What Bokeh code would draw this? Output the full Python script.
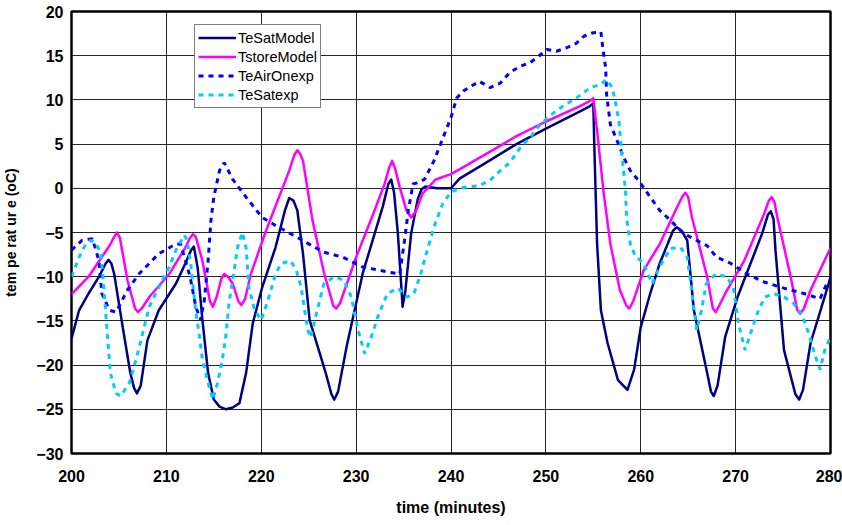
from bokeh.plotting import figure
from bokeh.models import Range1d, SingleIntervalTicker, Legend, LegendItem
from bokeh.embed import file_html
from bokeh.resources import INLINE

# ---- data ----
sat_model_t = [200, 200.8, 201.8, 202.9, 203.6, 203.9, 204.2, 204.5, 205.4, 206.2, 206.6, 206.9, 207.3, 208.0,
               209.2, 211.0, 212.0, 212.6, 212.9, 213.3, 213.8, 214.4, 215.0, 215.6, 216.3, 217.0, 217.7,
               218.4, 219.1, 220.1, 221.5, 222.5, 222.95, 223.4, 223.8, 224.4, 225.1, 226.8, 227.4, 227.7,
               228.1, 229.0, 230.7, 232.8, 233.4, 233.7, 234.0, 234.4, 234.9, 235.2, 235.8, 236.5, 236.9,
               237.3, 238.5, 240.0, 240.9, 243.4, 246.9, 249.9, 253.6, 254.5, 255.0, 255.1, 255.4, 255.8,
               256.5, 257.6, 258.6, 259.3, 260.0, 261.0, 262.0, 263.4, 263.8, 264.3, 264.9, 265.6, 267.0,
               267.4, 267.7, 268.1, 268.9, 270.2, 272.8, 273.4, 273.7, 274.0, 274.2, 275.1, 276.3, 276.7,
               277.1, 277.9, 279.8, 280]
sat_model_v = [-17.0, -13.8, -11.9, -10.0, -8.5, -8.1, -8.5, -9.7, -15.7, -20.9, -22.6, -23.2, -22.3, -17.2,
               -13.8, -10.8, -8.5, -7.0, -6.6, -9.0, -14.9, -20.9, -23.9, -24.7, -25.0, -24.8, -24.3,
               -20.9, -15.3, -11.2, -6.7, -2.5, -1.1, -1.4, -2.5, -7.4, -14.9, -20.9, -23.3, -23.9,
               -23.0, -17.9, -9.6, -2.1, 0.5, 1.0, -0.5, -5.1, -13.4, -11.5, -5.1, -1.2, -0.1,
               0.2, 0.0, 0.0, 1.1, 2.7, 5.0, 6.7, 8.7, 9.2, 9.6, 5.0, -6.3, -13.8,
               -17.5, -21.7, -22.8, -20.5, -15.7, -11.9, -8.5, -4.8, -4.4, -4.8, -5.9, -13.8, -20.9,
               -23.0, -23.5, -22.3, -16.8, -12.3, -5.1, -3.0, -2.6, -3.5, -7.0, -18.3, -23.3, -23.9,
               -22.8, -17.5, -10.8, -10.0]

store_model_t = [200, 201.8, 204.0, 204.5, 204.8, 205.1, 205.9, 206.7, 207.0, 207.4, 208.2, 210.3, 212.0,
                 212.5, 212.8, 213.1, 213.8, 214.6, 214.9, 215.3, 215.8, 216.1, 216.5, 217.0, 217.6,
                 217.9, 218.3, 218.9, 220.5, 222.95, 223.5, 223.8, 224.1, 224.4, 225.4, 226.6, 227.6,
                 227.9, 228.3, 230.0, 231.8, 233.0, 233.5, 233.8, 234.1, 234.6, 235.3, 235.8, 236.3,
                 237.0, 238.4, 240.0, 241.3, 243.4, 246.9, 249.9, 253.6, 254.5, 255.0, 255.4, 256.1,
                 256.8, 257.8, 258.5, 258.8, 259.2, 260.3, 262.0, 263.8, 264.4, 264.7, 265.0, 265.4,
                 267.0, 267.6, 267.9, 268.3, 268.9, 270.9, 273.0, 273.5, 273.8, 274.1, 274.4, 275.8,
                 276.5, 276.8, 277.2, 277.9, 279.8, 280]
store_model_v = [-12.0, -10.0, -6.5, -5.5, -5.0, -5.6, -10.4, -13.6, -14.0, -13.6, -12.3, -9.7, -6.7,
                 -5.6, -5.2, -5.5, -8.2, -12.8, -13.4, -12.3, -10.2, -9.7, -10.0, -10.8, -12.8,
                 -13.2, -12.5, -9.7, -4.8, 2.0, 3.8, 4.3, 3.9, 3.1, -3.6, -9.5, -13.3,
                 -13.6, -13.0, -7.8, -2.9, 0.5, 2.4, 3.1, 2.3, 0.1, -2.5, -3.3, -2.6,
                 -0.6, 1.0, 1.6, 2.4, 3.7, 5.9, 7.5, 9.3, 9.8, 10.2, 6.5, -0.6,
                 -6.3, -11.5, -13.3, -13.6, -12.8, -9.3, -6.3, -2.2, -0.9, -0.5, -1.0, -3.3,
                 -10.0, -13.6, -14.0, -13.2, -11.9, -8.2, -2.9, -1.4, -1.0, -1.6, -3.3, -10.0,
                 -13.8, -14.2, -13.6, -11.5, -7.2, -6.8]

air_on_t = [200, 201.1, 202.2, 202.9, 203.2, 204.0, 204.7, 205.9, 207.1, 209.2, 211.0, 211.5, 212.5,
            213.1, 213.6, 214.0, 214.4, 214.7, 215.0, 215.6, 216.1, 217.0, 218.4, 220.1, 221.5, 223.7,
            226.5, 228.6, 230.7, 233.5, 234.6, 235.1, 235.5, 236.0, 236.4, 237.2, 238.2, 239.3, 240.0,
            240.6, 241.3, 242.2, 243.0, 244.1, 245.2, 246.2, 247.3, 248.3, 249.2, 250.1, 251.1, 252.2,
            253.2, 254.0, 255.0, 255.8, 256.0, 256.3, 256.4, 256.8, 257.5, 258.2, 258.9, 259.9, 261.0,
            262.0, 263.1, 264.5, 265.9, 267.0, 268.0, 269.5, 271.2, 273.0, 275.1, 277.2, 278.9, 279.6, 280]
air_on_v = [-7.0, -5.9, -5.7, -8.2, -11.9, -13.8, -14.0, -11.5, -9.7, -7.4, -6.3, -6.3, -10.0,
            -13.4, -14.9, -12.7, -8.2, -3.6, -1.0, 2.0, 2.9, 1.0, -1.0, -3.3, -4.2, -5.5,
            -7.2, -7.8, -8.9, -9.5, -9.7, -5.9, -2.5, 0.5, 0.6, 1.0, 3.1, 6.1, 8.0,
            10.2, 11.0, 11.6, 12.1, 11.4, 11.9, 13.1, 13.8, 14.2, 14.9, 15.7, 15.5, 15.9,
            16.4, 17.2, 17.6, 17.7, 15.9, 13.6, 10.6, 7.2, 5.4, 3.5, 2.0, 0.7, -1.0,
            -2.5, -3.6, -5.1, -5.9, -6.5, -7.8, -8.5, -9.7, -10.6, -11.3, -11.9, -12.5, -10.8, -10.5]

sat_exp_t = [200, 200.8, 201.5, 202.0, 202.5, 203.1, 203.4, 203.8, 204.1, 204.7, 205.2, 206.1, 206.8,
             207.5, 208.2, 209.2, 210.3, 211.0, 211.9, 212.2, 212.6, 213.1, 213.5, 213.8, 214.4, 214.9,
             215.4, 215.9, 216.3, 216.6, 217.2, 217.5, 218.0, 218.4, 218.7, 219.3, 220.0, 220.7, 221.5,
             222.1, 223.1, 223.7, 224.2, 224.9, 225.2, 225.9, 226.6, 227.7, 228.7, 229.5, 230.2, 230.9,
             231.6, 232.3, 233.3, 234.4, 235.4, 236.1, 236.8, 237.5, 238.2, 239.1, 240.0, 241.3, 243.0,
             244.1, 245.2, 246.2, 247.3, 248.3, 249.4, 250.4, 251.8, 253.2, 254.7, 255.7, 256.4, 257.0,
             257.3, 257.7, 258.0, 258.4, 258.5, 258.9, 259.4, 260.3, 261.2, 262.0, 263.1, 264.2, 264.9,
             265.4, 265.9, 266.4, 266.9, 267.9, 269.1, 269.8, 270.3, 271.0, 271.7, 272.4, 273.1, 274.0,
             275.1, 276.1, 277.0, 277.7, 278.4, 278.9, 279.4, 280]
sat_exp_v = [-10.0, -7.8, -6.3, -5.9, -6.1, -7.4, -11.2, -16.8, -20.9, -23.2, -23.5, -22.0, -19.4,
             -16.4, -13.4, -11.2, -8.9, -7.0, -5.3, -5.9, -8.9, -14.0, -16.8, -19.4, -22.0, -23.9,
             -22.0, -19.4, -16.4, -13.0, -8.9, -6.7, -5.0, -6.7, -11.2, -13.8, -14.9, -12.7, -9.7,
             -8.5, -8.2, -9.3, -11.2, -16.0, -16.9, -13.8, -10.8, -10.0, -10.4, -12.3, -16.0, -18.7,
             -16.8, -14.5, -11.9, -11.3, -12.3, -11.9, -9.7, -7.0, -4.4, -1.8, -0.4, 0.1, 0.3,
             0.9, 2.0, 2.9, 4.6, 5.7, 7.2, 8.2, 9.3, 10.2, 11.4, 11.7, 12.3, 11.4,
             9.9, 7.6, 3.9, -0.3, -3.3, -6.3, -7.6, -8.5, -10.8, -8.9, -6.8, -6.7, -7.8,
             -11.9, -16.0, -13.8, -10.8, -9.7, -10.0, -11.5, -15.3, -18.3, -16.0, -13.8, -12.3, -11.9,
             -12.3, -13.0, -14.3, -16.4, -19.0, -20.5, -18.3, -16.8]

series_names = ["TeSatModel", "TstoreModel", "TeAirOnexp", "TeSatexp"]
x_label = "time (minutes)"
y_label = "tem pe rat ur e (oC)"

assert len(sat_model_t) == len(sat_model_v)
assert len(store_model_t) == len(store_model_v)
assert len(air_on_t) == len(air_on_v)
assert len(sat_exp_t) == len(sat_exp_v)

FONT = "Liberation Sans"

p = figure(width=842, height=525, output_backend="svg", toolbar_location=None,
           x_range=Range1d(200, 280), y_range=Range1d(-30, 20),
           min_border_left=60, min_border_right=12, min_border_top=11, min_border_bottom=72)

p.background_fill_color = "white"
p.border_fill_color = "white"
p.outline_line_color = "black"
p.outline_line_width = 2.5

p.xaxis.ticker = SingleIntervalTicker(interval=10)
p.yaxis.ticker = SingleIntervalTicker(interval=5)
for g in (p.xgrid, p.ygrid):
    g.grid_line_color = "black"
    g.grid_line_width = 1
    g.grid_line_alpha = 0.85

for ax in (p.xaxis, p.yaxis):
    ax.axis_line_color = None
    ax.major_tick_line_color = None
    ax.minor_tick_line_color = None
    ax.major_tick_in = 0
    ax.major_tick_out = 0
    ax.minor_tick_in = 0
    ax.minor_tick_out = 0
    ax.major_label_text_font = FONT
    ax.major_label_text_font_style = "bold"
    ax.major_label_text_font_size = "16px"
    ax.major_label_text_color = "black"
    ax.axis_label_text_font = FONT
    ax.axis_label_text_font_style = "bold"
    ax.axis_label_text_color = "black"

p.xaxis.axis_label = x_label
p.yaxis.axis_label = y_label
p.xaxis.axis_label_text_font_size = "16px"
p.yaxis.axis_label_text_font_size = "14px"
p.xaxis.major_label_standoff = 16
p.yaxis.major_label_standoff = 8
p.xaxis.axis_label_standoff = 14
p.yaxis.axis_label_standoff = 14

r1 = p.line(sat_model_t, sat_model_v, line_color="#000080", line_width=2.5, line_join="round")
r2 = p.line(store_model_t, store_model_v, line_color="#FF00FF", line_width=2.5, line_join="round")
r3 = p.line(air_on_t, air_on_v, line_color="#0000FF", line_width=3, line_dash="5 5")
r4 = p.line(sat_exp_t, sat_exp_v, line_color="#00CCFF", line_width=3, line_dash="5 5")

legend = Legend(items=[LegendItem(label=n, renderers=[r]) for n, r in zip(series_names, [r1, r2, r3, r4])],
                location=(123, 345), orientation="vertical",
                border_line_color="black", border_line_width=1, background_fill_color="white",
                background_fill_alpha=1.0,
                label_text_font=FONT, label_text_font_size="14.5px", label_text_color="black",
                glyph_width=38, glyph_height=19, label_height=19, label_standoff=2,
                spacing=0, padding=3, margin=0)
p.add_layout(legend)

open("out.html", "w").write(file_html(p, INLINE))
